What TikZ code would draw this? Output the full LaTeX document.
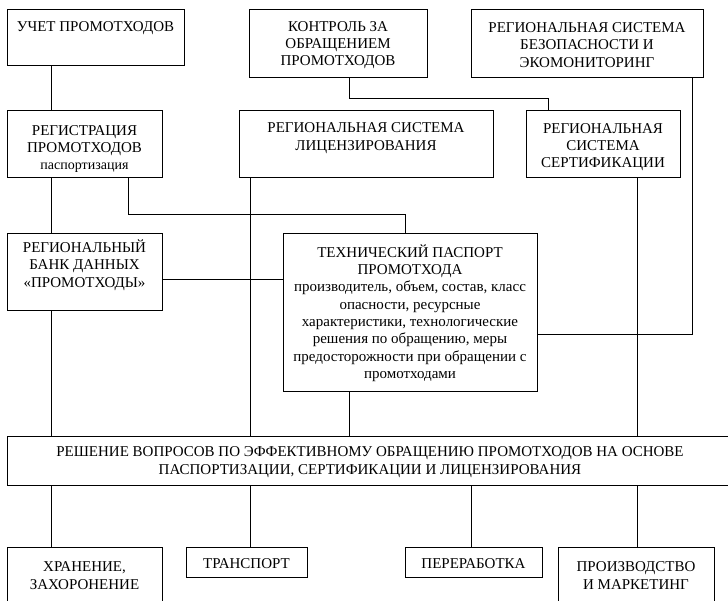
\documentclass[tikz,border=0pt]{standalone}
\usepackage{fontspec}
\setmainfont{Liberation Serif}
\begin{document}
\begin{tikzpicture}[x=1pt,y=-1pt,
  box/.style={draw, line width=0.8pt, rectangle, inner sep=0pt},
  txt/.style={font=\fontsize{15}{17.3}\selectfont, align=center, inner sep=0pt},
  ln/.style={line width=0.8pt}]
\useasboundingbox (0,0) rectangle (728,600);
\clip (0,0) rectangle (728,600);
% boxes
\node[box, minimum width=177pt, minimum height=56pt] (uchet) at (95.5,37) {};
\node[box, minimum width=178pt, minimum height=68pt] (kontr) at (338,43) {};
\node[box, minimum width=232pt, minimum height=68pt] (bez) at (587,43) {};
\node[box, minimum width=155pt, minimum height=67pt] (reg) at (84.5,143.5) {};
\node[box, minimum width=254pt, minimum height=67pt] (lic) at (366,143.5) {};
\node[box, minimum width=154pt, minimum height=67pt] (sert) at (603,143.5) {};
\node[box, minimum width=155pt, minimum height=77pt] (bank) at (84.5,271.5) {};
\node[box, minimum width=254pt, minimum height=158pt] (tech) at (410,312) {};
\node[box, minimum width=728pt, minimum height=49pt] (res) at (371,460.5) {};
\node[box, minimum width=155pt, minimum height=65pt] (hran) at (84.5,579.5) {};
\node[box, minimum width=121pt, minimum height=30pt] (trans) at (246.5,562) {};
\node[box, minimum width=137pt, minimum height=30pt] (perer) at (473.5,562) {};
\node[box, minimum width=156pt, minimum height=65pt] (proizv) at (636,579.5) {};
% texts
\node[txt] (uchetT) at (95.5,28) {УЧЕТ ПРОМОТХОДОВ};
\node[txt] (kontrT) at (338,45) {КОНТРОЛЬ ЗА\\ОБРАЩЕНИЕМ\\ПРОМОТХОДОВ};
\node[txt] (bezT) at (587,45) {РЕГИОНАЛЬНАЯ СИСТЕМА\\БЕЗОПАСНОСТИ И\\ЭКОМОНИТОРИНГ};
\node[txt] (regT) at (84.5,149) {РЕГИСТРАЦИЯ\\ПРОМОТХОДОВ\\{\fontsize{14}{17}\selectfont паспортизация}};
\node[txt] (licT) at (366,138) {РЕГИОНАЛЬНАЯ СИСТЕМА\\ЛИЦЕНЗИРОВАНИЯ};
\node[txt] (sertT) at (603,147) {РЕГИОНАЛЬНАЯ\\СИСТЕМА\\СЕРТИФИКАЦИИ};
\node[txt] (bankT) at (84.5,265) {РЕГИОНАЛЬНЫЙ\\БАНК ДАННЫХ\\«ПРОМОТХОДЫ»};
\node[txt] (techT) at (410,313) {ТЕХНИЧЕСКИЙ ПАСПОРТ\\ПРОМОТХОДА\\производитель, объем, состав, класс\\опасности, ресурсные\\характеристики, технологические\\решения по обращению, меры\\предосторожности при обращении с\\промотходами};
\node[txt] (resT) at (370,462) {РЕШЕНИЕ ВОПРОСОВ ПО ЭФФЕКТИВНОМУ ОБРАЩЕНИЮ ПРОМОТХОДОВ НА ОСНОВЕ\\ПАСПОРТИЗАЦИИ, СЕРТИФИКАЦИИ И ЛИЦЕНЗИРОВАНИЯ};
\node[txt] (hranT) at (84.5,575.5) {ХРАНЕНИЕ,\\ЗАХОРОНЕНИЕ};
\node[txt] (transT) at (246.5,564) {ТРАНСПОРТ};
\node[txt] (pererT) at (473.5,564) {ПЕРЕРАБОТКА};
\node[txt] (proizvT) at (636,575.5) {ПРОИЗВОДСТВО\\И МАРКЕТИНГ};
% column / row coordinates
\coordinate (xA) at (51,0);
\coordinate (xB) at (128,0);
\coordinate (xC) at (250,0);
\coordinate (xD) at (349,0);
\coordinate (xE) at (405,0);
\coordinate (xF) at (548,0);
\coordinate (xG) at (637,0);
\coordinate (xH) at (692,0);
\coordinate (xI) at (471,0);
\coordinate (yK) at (0,98);
\coordinate (yR) at (0,214);
\coordinate (yB) at (0,279);
\coordinate (yT) at (0,334);
% connectors
\draw[ln] (uchet.south -| xA) -- (reg.north -| xA);
\draw[ln] (reg.south -| xA) -- (bank.north -| xA);
\draw[ln] (reg.south -| xB) |- (yR -| xE) -- (tech.north -| xE);
\draw[ln] (lic.south -| xC) -- (res.north -| xC);
\draw[ln] (kontr.south -| xD) |- (yK -| xF) -- (sert.north -| xF);
\draw[ln] (sert.south -| xG) -- (res.north -| xG);
\draw[ln] (bez.south -| xH) |- (yT -| tech.east);
\draw[ln] (yB -| bank.east) -- (yB -| tech.west);
\draw[ln] (bank.south -| xA) -- (res.north -| xA);
\draw[ln] (tech.south -| xD) -- (res.north -| xD);
\draw[ln] (res.south -| xA) -- (hran.north -| xA);
\draw[ln] (res.south -| xC) -- (trans.north -| xC);
\draw[ln] (res.south -| xI) -- (perer.north -| xI);
\draw[ln] (res.south -| xG) -- (proizv.north -| xG);
\end{tikzpicture}
\end{document}
